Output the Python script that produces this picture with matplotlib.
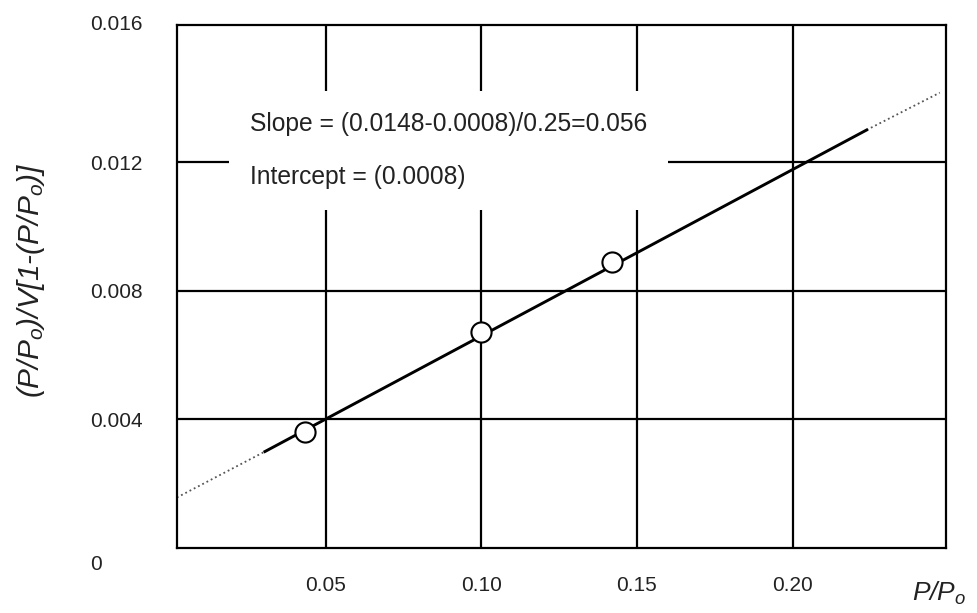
import matplotlib
matplotlib.use("Agg")
import matplotlib.pyplot as plt
from matplotlib.transforms import ScaledTranslation

plt.rcParams['font.family'] = ['Liberation Sans', 'DejaVu Sans']
plt.rcParams['mathtext.fontset'] = 'custom'
plt.rcParams['mathtext.it'] = 'Liberation Sans:italic'
plt.rcParams['mathtext.rm'] = 'Liberation Sans'

# measured points
p_ratio = [0.0434, 0.0999, 0.142]
bet_y = [0.0036, 0.00671, 0.00889]

# fitted line (solid part and dotted extrapolations)
solid_x = [0.0305, 0.2238]
solid_y = [0.0030, 0.0130]
dot_left_x = [0.0022, 0.0305]
dot_left_y = [0.00157, 0.0030]
dot_right_x = [0.2238, 0.2473]
dot_right_y = [0.0130, 0.01416]

xticks = [0.05, 0.10, 0.15, 0.20]
xticklabels = ["0.05", "0.10", "0.15", "0.20"]
yticks = [0, 0.004, 0.008, 0.012, 0.016]
yticklabels = ["0", "0.004", "0.008", "0.012", "0.016"]

fig = plt.figure(figsize=(9.77, 6.13), dpi=100)
ax = fig.add_axes([0.181, 0.106, 0.787, 0.853])

for x in xticks:
    ax.axvline(x, color="black", lw=1.6, zorder=1)
for y in yticks[1:4]:
    ax.axhline(y, color="black", lw=1.6, zorder=1)

ax.plot(dot_left_x, dot_left_y, ls=":", color="#555555", lw=1.3, zorder=3)
ax.plot(dot_right_x, dot_right_y, ls=":", color="#555555", lw=1.3, zorder=3)
ax.plot(solid_x, solid_y, color="black", lw=2.1, zorder=3)
ax.plot(p_ratio, bet_y, "o", ms=14.5, mfc="white", mec="black", mew=1.5, zorder=4)

ax.text(0.0257, 0.01355,
        "Slope = (0.0148-0.0008)/0.25=0.056\nIntercept = (0.0008)",
        fontsize=17.7, va="top", ha="left", linespacing=2.5, color="#222222",
        bbox=dict(boxstyle="square,pad=0.85", fc="white", ec="none"), zorder=2)

ax.set_xlim(0.0022, 0.2492)
ax.set_ylim(0, 0.01626)
ax.set_xticks(xticks)
ax.set_xticklabels(xticklabels, fontsize=15, color="#222222")
ax.set_yticks(yticks)
ax.set_yticklabels(yticklabels, fontsize=15, color="#222222", ha="left")
ax.tick_params(axis="x", length=0, pad=20)
ax.tick_params(axis="y", length=0, pad=62.6)

labs = ax.get_yticklabels()
labs[0].set_transform(labs[0].get_transform() + ScaledTranslation(0, -0.14, fig.dpi_scale_trans))
labs[-1].set_transform(labs[-1].get_transform() + ScaledTranslation(0, 0.11, fig.dpi_scale_trans))

for s in ax.spines.values():
    s.set_linewidth(1.6)
    s.set_zorder(5)

ax.set_xlabel("P/P$_o$", fontsize=19, style="italic", color="#222222")
ax.xaxis.set_label_coords(0.992, -0.06)
ax.set_ylabel("(P/P$_o$)/V[1-(P/P$_o$)]", fontsize=21.5, style="italic", color="#222222")
ax.yaxis.set_label_coords(-0.169, 0.512)

fig.savefig("out.png", dpi=100)
